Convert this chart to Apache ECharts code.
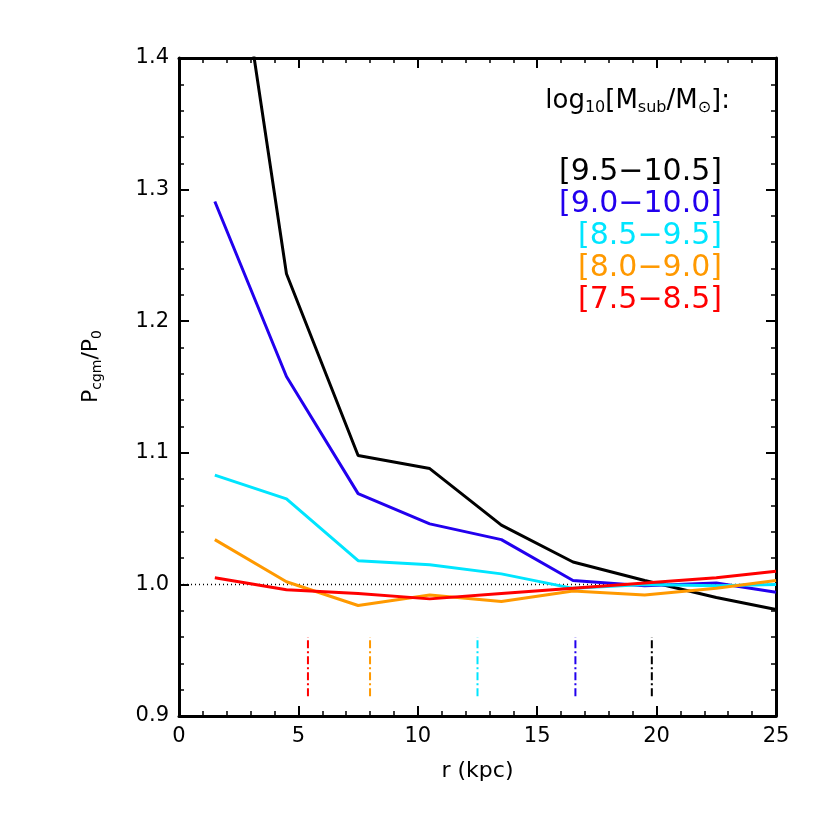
<!DOCTYPE html><html><head><script src="https://cdn.jsdelivr.net/npm/echarts@6/dist/echarts.min.js"></script></head><body style="margin:0"><div id="c" style="width:830px;height:830px"></div><script>
const xs=[1.5,4.5,7.5,10.5,13.5,16.5,19.5,22.5,25];
const black=[1.6,1.236,1.098,1.088,1.045,1.017,1.003,0.99,0.981];
const blue=[1.291,1.158,1.069,1.046,1.034,1.003,0.999,1.001,0.994];
const cyan=[1.083,1.065,1.018,1.015,1.008,0.997,1.0,0.999,1.0];
const orange=[1.034,1.002,0.984,0.992,0.987,0.995,0.992,0.997,1.003];
const red=[1.005,0.996,0.993,0.989,0.993,0.997,1.001,1.005,1.010];
const marks=[[5.4,'#ff0000'],[8.0,'#ff9900'],[12.5,'#00e5ff'],[16.6,'#2200ee'],[19.8,'#000000']];
const labels=[['[9.5−10.5]','#000'],['[9.0−10.0]','#2200ee'],['[8.5−9.5]','#00e5ff'],['[8.0−9.0]','#ff9900'],['[7.5−8.5]','#ff0000']];
const F='DejaVu Sans';
const ch=echarts.init(document.getElementById('c'));
const ax={axisLine:{onZero:false,lineStyle:{color:'#000',width:3}},axisTick:{inside:true,length:10,lineStyle:{width:2}},minorTick:{show:true,length:5,splitNumber:5,lineStyle:{color:'#000',width:1.5}},splitLine:{show:false},axisLabel:{color:'#000',fontSize:21,fontFamily:F,margin:10}};
function mk(d,c){return {type:'line',data:xs.map((x,i)=>[x,d[i]]),symbol:'none',lineStyle:{color:c,width:3},z:3};}
const series=[mk(black,'#000'),mk(blue,'#2200ee'),mk(cyan,'#00e5ff'),mk(orange,'#ff9900'),mk(red,'#ff0000'),
{type:'line',data:[[0,1],[25,1]],symbol:'none',lineStyle:{color:'#000',width:1.5,type:[1,3]},z:2}];
marks.forEach(m=>series.push({type:'line',data:[[m[0],0.915],[m[0],0.96]],symbol:'none',lineStyle:{color:m[1],width:2,type:[8,3,2,3]}}));
ch.setOption({animation:false,grid:{left:179,right:54,top:58,bottom:114},
xAxis:[{...ax,type:'value',min:0,max:25,interval:5,name:'r (kpc)',nameLocation:'middle',nameGap:44,nameTextStyle:{fontSize:22,fontFamily:F,color:'#000'}},
{...ax,type:'value',position:'top',min:0,max:25,interval:5,axisLabel:{show:false}}],
yAxis:[{...ax,type:'value',min:0.9,max:1.4,interval:0.1,axisLabel:{...ax.axisLabel,formatter:v=>v.toFixed(1)}},
{...ax,type:'value',position:'right',min:0.9,max:1.4,interval:0.1,axisLabel:{show:false}}],
series,
graphic:[{type:'text',left:80,top:330,rotation:Math.PI/2,style:{text:'{a|P}{s|cgm}{a|/P}{s|0}',rich:{a:{fontSize:22,fontFamily:F},s:{fontSize:14,fontFamily:F,padding:[12,0,0,0]}}}},
{type:'text',right:100,top:88,style:{text:'{a|log}{s|10}{a|[M}{s|sub}{a|/M}{s|⊙}{a|]:}',rich:{a:{fontSize:26,fontFamily:F,fill:'#000'},s:{fontSize:16,fontFamily:F,padding:[14,0,0,0]}}}},
...labels.map((l,i)=>({type:'text',right:108,top:157+i*32,style:{text:l[0],fill:l[1],fontSize:30,fontFamily:F}}))]
});
</script></body></html>
